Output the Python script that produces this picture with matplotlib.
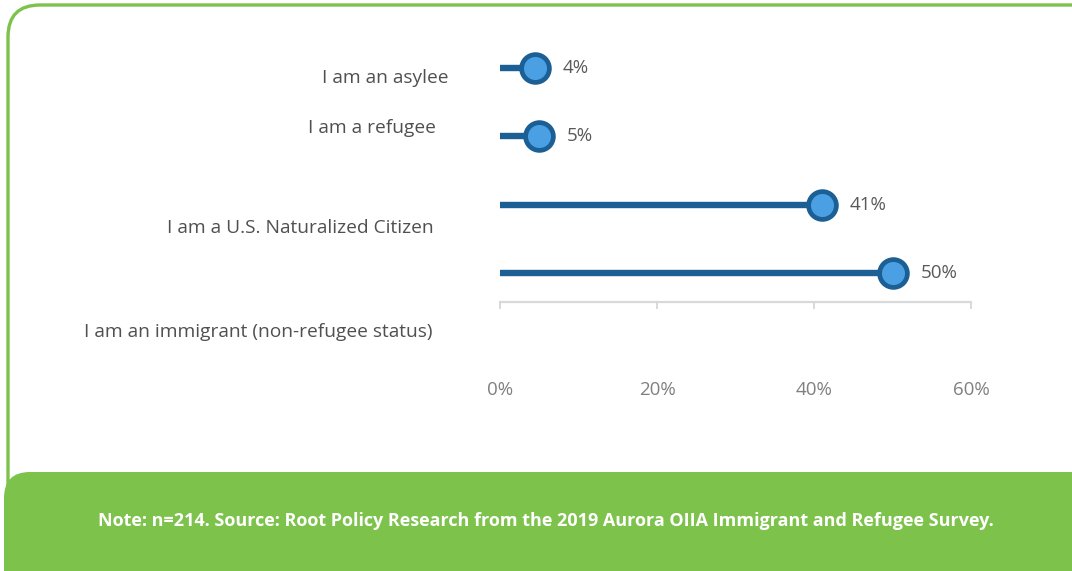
import matplotlib
matplotlib.use('Agg')
import matplotlib.pyplot as plt
from matplotlib.patches import FancyBboxPatch
import numpy as np

# data
categories = ['I am an asylee', 'I am a refugee', 'I am a U.S. Naturalized Citizen',
              'I am an immigrant (non-refugee status)']
values = [4.4, 5, 41, 50]
value_labels = ['4%', '5%', '41%', '50%']
x_ticks = [0, 20, 40, 60]
x_tick_labels = ['0%', '20%', '40%', '60%']
note = 'Note: n=214. Source: Root Policy Research from the 2019 Aurora OIIA Immigrant and Refugee Survey.'

W, H = 1072, 571
green = '#7cc24b'
line_blue = '#1b5f95'
dot_blue = '#4aa0e2'

plt.rcParams['font.family'] = ['Open Sans', 'DejaVu Sans']

fig = plt.figure(figsize=(W / 100, H / 100), dpi=100)

# background frame in pixel coordinates
bg = fig.add_axes([0, 0, 1, 1])
bg.set_xlim(0, W)
bg.set_ylim(H, 0)
bg.axis('off')
bg.add_patch(FancyBboxPatch((8, 5), 1200, 700, boxstyle='round,pad=0,rounding_size=32',
                            facecolor='white', edgecolor=green, linewidth=2.4))
bg.add_patch(FancyBboxPatch((4, 472), 1200, 200, boxstyle='round,pad=0,rounding_size=26',
                            facecolor=green, edgecolor='none'))
bg.text(546, 521, note, color='white', fontsize=13, fontweight='bold',
        ha='center', va='center')

# category labels (offset from the rows as in the source)
label_pos = [(449, 78), (436, 128), (434, 228), (432, 332)]
for cat, (lx, ly) in zip(categories, label_pos):
    bg.text(lx, ly, cat, color='#505050', fontsize=13.8, ha='right', va='center')

# chart axes
x0, x1 = 500, 971
ytop, ybot = 40, 302
ax = fig.add_axes([x0 / W, 1 - ybot / H, (x1 - x0) / W, (ybot - ytop) / H])
ax.patch.set_alpha(0)
step = (273 - 68) / 3
ax.set_xlim(0, 60)
ax.set_ylim((ybot - 68) / step, (ytop - 68) / step)

y = np.arange(len(categories))
ax.hlines(y, 0, values, color=line_blue, linewidth=4.6, zorder=2)
ax.scatter(values, y, s=400, facecolor=dot_blue, edgecolor=line_blue, linewidth=3.4, zorder=3)
for v, yy, lab in zip(values, y, value_labels):
    ax.annotate(lab, (v, yy), xytext=(20, 0), textcoords='offset points',
                ha='left', va='center', fontsize=13.5, color='#595959')

for s in ['top', 'right', 'left']:
    ax.spines[s].set_visible(False)
ax.spines['bottom'].set_color('#d9d9d9')
ax.spines['bottom'].set_linewidth(1.6)
ax.set_yticks([])
ax.set_xticks(x_ticks)
ax.set_xticklabels(x_tick_labels)
ax.tick_params(axis='x', direction='out', length=5, width=1.4, color='#d9d9d9',
               labelcolor='#808080', labelsize=13.5, pad=52)

fig.savefig('out.png', dpi=100)
